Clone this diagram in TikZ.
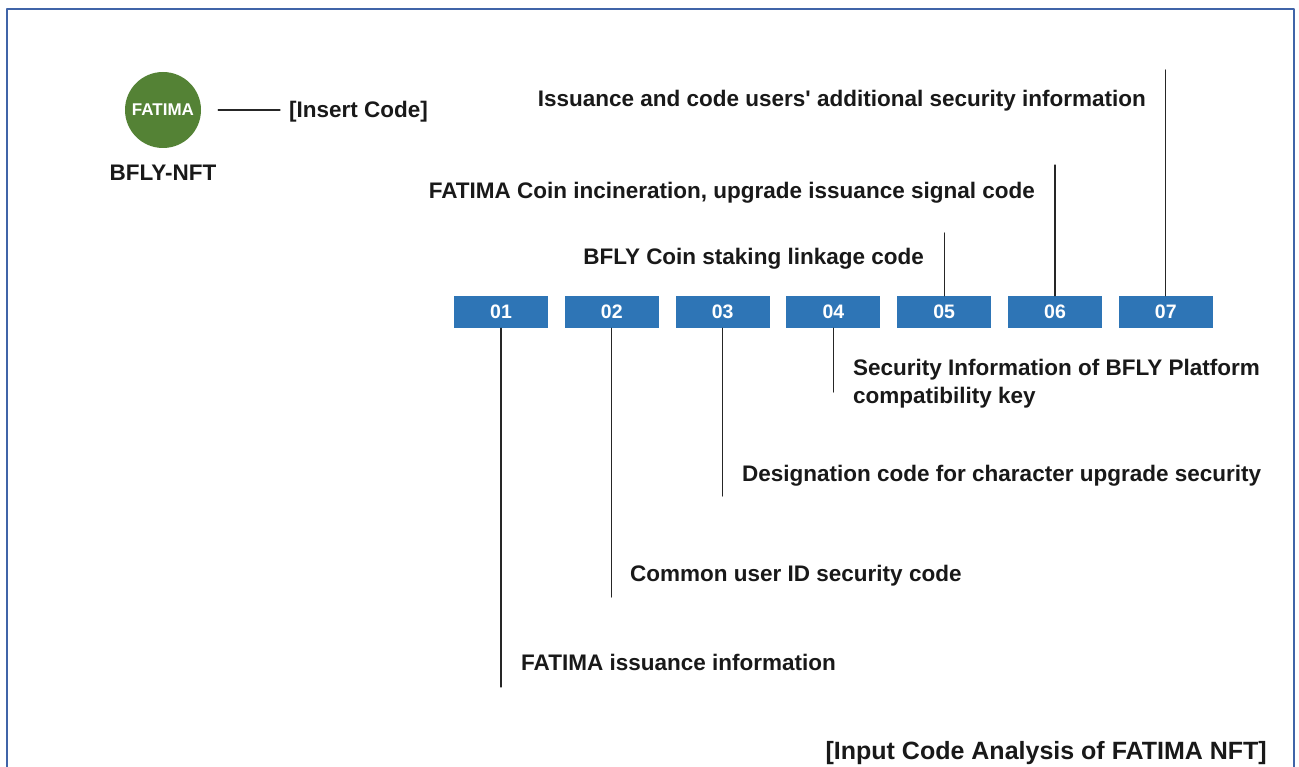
\documentclass[tikz,border=0pt]{standalone}
\usepackage{fontspec}
\setmainfont{Liberation Sans}
\definecolor{codeblue}{RGB}{46,117,182}
\definecolor{coingreen}{RGB}{84,130,53}
\definecolor{framblue}{RGB}{64,100,168}
\begin{document}
\begin{tikzpicture}[x=1pt,y=-1pt,line join=round,line cap=round,
	font=\bfseries\fontsize{22.5}{28}\selectfont,
	codebox/.style={fill=codeblue,text=white,minimum width=94pt,minimum height=32pt,inner sep=0pt,font=\bfseries\fontsize{19.5}{20}\selectfont},
	lbl/.style={inner sep=0pt,text=black!90},
	lead/.style={draw=black!85,line width=1.3pt}]
	\useasboundingbox (0,0) rectangle (1299,767);
	\draw[framblue,line width=2.5pt] (7,775)--(7,9)--(1294,9)--(1294,775);
	% coin and its label
	\node[circle,fill=coingreen,minimum size=76pt,inner sep=0pt,text=white,font=\bfseries\fontsize{17}{18}\selectfont] (coin) at (163,110) {FATIMA};
	\node[lbl,anchor=base] (nft) at (163,181) {BFLY-NFT};
	\node[lbl,anchor=base west] (ins) at (289,118) {[Insert Code]};
	\draw[lead] ([xshift=17pt]coin.east) -- ([xshift=-9pt]coin.east -| ins.west);
	% code boxes
	\foreach \i in {1,...,7}
	\node[codebox] (b\i) at ({501+(\i-1)*110.8},312) {0\i};
	\path
	(500,687) coordinate (e1)
	(611,597) coordinate (e2)
	(722,496) coordinate (e3)
	(832,392) coordinate (e4)
	(944,233) coordinate (e5)
	(1055,165) coordinate (e6)
	(1166,70) coordinate (e7)
	;
	\foreach \i in {1,...,4}
	\draw[lead] (b\i.south) -- (b\i.south |- e\i);
	\foreach \i in {5,6,7}
	\draw[lead] (b\i.north) -- (b\i.north |- e\i);
	% labels
	\node[lbl,anchor=base west] (l1) at (521,670) {FATIMA issuance information};
	\node[lbl,anchor=base west] (l2) at (630,581) {Common user ID security code};
	\node[lbl,anchor=base west] (l3) at (742,481) {Designation code for character upgrade security};
	\node[lbl,anchor=north west,align=left] (l4) at (853,359) {Security Information of BFLY Platform\\compatibility key};
	\node[lbl,anchor=base east] (l5) at (924,265) {BFLY Coin staking linkage code};
	\node[lbl,anchor=base east] (l6) at (1035,199) {FATIMA Coin incineration, upgrade issuance signal code};
	\node[lbl,anchor=base east] (l7) at (1146,107) {Issuance and code users\textquotesingle\ additional security information};
	\node[lbl,anchor=base east,font=\bfseries\fontsize{25}{26}\selectfont] (cap) at (1267,759) {[Input Code Analysis of FATIMA NFT]};
\end{tikzpicture}
\end{document}
